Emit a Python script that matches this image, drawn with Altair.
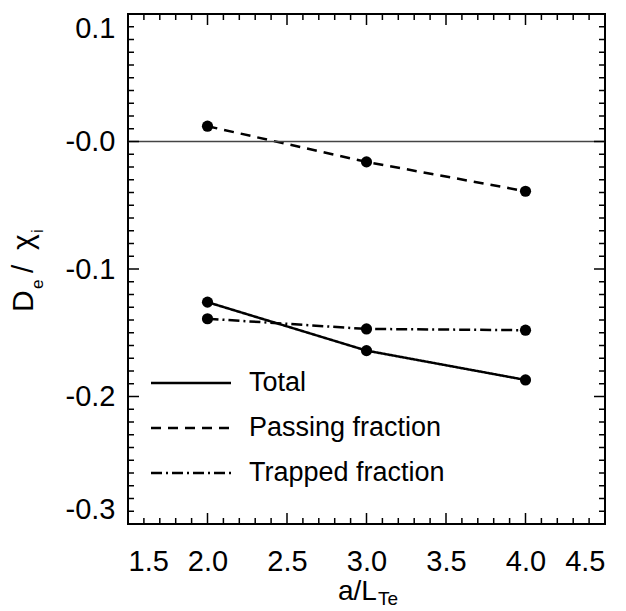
import altair as alt
import pandas as pd
import numpy as np

# ---- data ----
x_vals = [2.0, 3.0, 4.0]
total = [-0.126, -0.164, -0.187]
passing = [0.012, -0.016, -0.039]
trapped = [-0.139, -0.147, -0.148]
series_names = ["Total", "Passing fraction", "Trapped fraction"]
x_major = [1.5, 2.0, 2.5, 3.0, 3.5, 4.0, 4.5]
y_major = [-0.3, -0.2, -0.1, 0.0, 0.1]

W, H = 477, 510
FONT = "Liberation Sans"
dashes = [[1, 0], [10, 7], [11, 4, 2, 4]]

rows = []
for name, vals in zip(series_names, [total, passing, trapped]):
    for xv, yv in zip(x_vals, vals):
        rows.append({"x": xv, "y": yv, "series": name})
df = pd.DataFrame(rows)

xs = alt.Scale(domain=[1.5, 4.5], nice=False, zero=False)
ys = alt.Scale(domain=[-0.3, 0.1], nice=False, zero=False)

x_axis = alt.Axis(values=x_major, format=".1f", ticks=False, domain=False, grid=False,
                  labelFontSize=29, labelPadding=23, title=None)
y_axis = alt.Axis(values=y_major, ticks=False, domain=False, grid=False, labelFlush=True,
                  labelExpr="datum.value == 0 ? '-0.0' : (datum.value < 0 ? '-' + format(-datum.value, '.1f') : format(datum.value, '.1f'))",
                  labelFontSize=29, labelPadding=13, title=None)

# minor tick positions
x_minor = [round(v, 2) for v in np.arange(1.5, 4.5001, 0.1) if round(v, 2) not in x_major]
y_minor = [round(v, 2) for v in np.arange(-0.3, 0.1001, 0.01) if round(v, 2) not in y_major]
dfx_major = pd.DataFrame({"v": x_major})
dfx_minor = pd.DataFrame({"v": x_minor})
dfy_major = pd.DataFrame({"v": y_major})
dfy_minor = pd.DataFrame({"v": y_minor})

MAJ, MIN = 11, 6

lines = alt.Chart(df).mark_line(color="black", strokeWidth=2.5).encode(
    x=alt.X("x:Q", scale=xs, axis=x_axis),
    y=alt.Y("y:Q", scale=ys, axis=y_axis),
    strokeDash=alt.StrokeDash("series:N", scale=alt.Scale(domain=series_names, range=dashes), legend=None),
    detail="series:N",
)

points = alt.Chart(df).mark_circle(color="black", size=125, opacity=1).encode(
    x=alt.X("x:Q", scale=xs, axis=x_axis),
    y=alt.Y("y:Q", scale=ys, axis=y_axis),
)

zero = alt.Chart(pd.DataFrame({"z": [0.0]})).mark_rule(color="#444", strokeWidth=1.3).encode(
    y=alt.Y("z:Q", scale=ys, axis=y_axis), x=alt.value(0), x2=alt.value(W))

tick_layers = []
for d, ln in [(dfx_major, MAJ), (dfx_minor, MIN)]:
    tick_layers.append(alt.Chart(d).mark_rule(color="black", strokeWidth=1.5).encode(
        x=alt.X("v:Q", scale=xs, axis=x_axis), y=alt.value(H), y2=alt.value(H - ln)))
    tick_layers.append(alt.Chart(d).mark_rule(color="black", strokeWidth=1.5).encode(
        x=alt.X("v:Q", scale=xs, axis=x_axis), y=alt.value(0), y2=alt.value(ln)))
for d, ln in [(dfy_major, MAJ), (dfy_minor, MIN)]:
    tick_layers.append(alt.Chart(d).mark_rule(color="black", strokeWidth=1.5).encode(
        y=alt.Y("v:Q", scale=ys, axis=y_axis), x=alt.value(0), x2=alt.value(ln)))
    tick_layers.append(alt.Chart(d).mark_rule(color="black", strokeWidth=1.5).encode(
        y=alt.Y("v:Q", scale=ys, axis=y_axis), x=alt.value(W), x2=alt.value(W - ln)))

# custom in-plot legend
legend_layers = []
for i, name in enumerate(series_names):
    yy = 369 + 45 * i
    ld = pd.DataFrame({"label": [name]})
    legend_layers.append(alt.Chart(ld).mark_rule(color="black", strokeWidth=2.5, strokeDash=dashes[i]).encode(
        x=alt.value(23), x2=alt.value(103), y=alt.value(yy)))
    legend_layers.append(alt.Chart(ld).mark_text(align="left", baseline="middle", fontSize=27, font=FONT, color="black").encode(
        x=alt.value(121), y=alt.value(yy), text="label:N"))

# axis titles with subscripts
def txt(s, x, y, size, angle=0):
    return alt.Chart(pd.DataFrame({"t": [s]})).mark_text(
        align="left", baseline="alphabetic", fontSize=size, font=FONT, color="black", angle=angle
    ).encode(x=alt.value(x), y=alt.value(y), text="t:N")

title_layers = [
    txt("D", -95, 298, 30, 270),
    txt("e", -85, 275, 17, 270),
    txt("/", -95, 259, 30, 270),
    txt("χ", -95, 236, 30, 270),
    txt("i", -85, 219, 17, 270),
    txt("a/L", 210, 586, 28),
    txt("Te", 250, 591, 19),
]

chart = alt.layer(
    lines, zero, *tick_layers, points, *legend_layers, *title_layers
).properties(
    width=W, height=H,
    autosize=alt.AutoSizeParams(type="none"),
    padding={"left": 128, "top": 14, "right": 21, "bottom": 87},
).configure_view(stroke="black", strokeWidth=2).configure_axis(
    labelFont=FONT, labelColor="black"
)

chart.save("out.html", embed_options={"renderer": "svg", "actions": False})
